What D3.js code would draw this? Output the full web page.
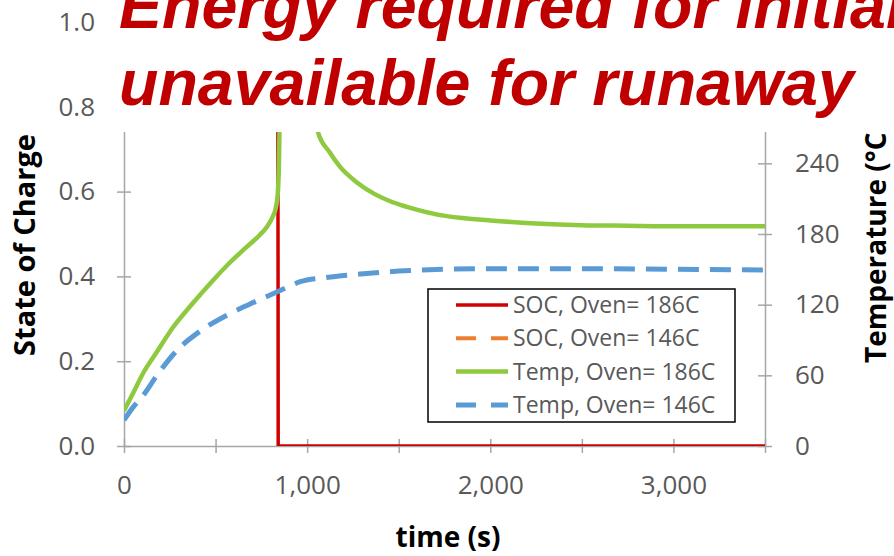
<!DOCTYPE html>
<html>
<head>
<meta charset="utf-8">
<script src="https://cdn.jsdelivr.net/npm/d3@7"></script>
<style>
  body { margin: 0; background: #fff; }
  svg { display: block; }
</style>
</head>
<body>
<script>
// values
const timeTicks = [0, 500, 1000, 1500, 2000, 2500, 3000, 3500];
const timeLabels = [0, 1000, 2000, 3000];
const socTicks = [0, 0.2, 0.4, 0.6, 0.8, 1.0];
const tempTicks = [0, 60, 120, 180, 240];

const seriesNames = ["SOC, Oven= 186C", "SOC, Oven= 146C", "Temp, Oven= 186C", "Temp, Oven= 146C"];

const soc186Time = [0, 840, 842, 3500];
const soc186 = [1.0, 1.0, 0.0, 0.0];

const soc146Time = [0, 1000, 2000, 3500];
const soc146 = [1.0, 1.0, 1.0, 1.0];

const temp186Time = [0, 50, 105, 180, 269, 380, 488, 580, 670, 740, 780, 810, 830, 840, 846, 850, 870,
  920, 980, 1030, 1060, 1120, 1180, 1270, 1362, 1450, 1545, 1640, 1727, 1850, 2000, 2250, 2500, 2750, 3000, 3500];
const temp186 = [30, 45, 62, 80, 101, 122, 141, 156, 169, 179, 186, 194, 203, 215, 240, 280, 370,
  400, 350, 290, 266, 250, 237, 224, 214.5, 208, 203, 199, 196, 193.5, 191.5, 189, 187.5, 187, 186.5, 186.5];

const temp146Time = [0, 50, 105, 180, 288, 420, 561, 680, 780, 880, 962, 1100, 1290, 1500, 1750, 2000, 2500, 3000, 3500];
const temp146 = [22, 33, 43, 60, 81, 98, 111, 120, 127, 134, 139.5, 143, 146, 148.5, 150, 150.5, 150.5, 150, 149.5];

const width = 894, height = 556;
const plotL = 124, plotR = 765, plotT = 22, plotB = 446;
const axisGrey = "#a6a6a6", labelGrey = "#595959";
const colors = ["#d00000", "#ed7d31", "#8fc93f", "#5b9bd5"];

const svg = d3.select("body").append("svg")
  .attr("width", width)
  .attr("height", height);

const x = d3.scaleLinear().domain([0, 3500]).range([plotL, plotR]);
const ySoc = d3.scaleLinear().domain([0, 1]).range([plotB, plotT]);
const yTemp = d3.scaleLinear().domain([0, 360]).range([plotB, plotT]);

svg.append("clipPath").attr("id", "plot")
  .append("rect")
  .attr("x", plotL).attr("y", plotT)
  .attr("width", plotR - plotL).attr("height", plotB - plotT);

// axes: Excel style crossing ticks
const tickLen = 7;
function styleAxis(g) {
  g.select(".domain").attr("stroke", axisGrey).attr("stroke-width", 1.5);
  g.selectAll(".tick line").attr("stroke", axisGrey).attr("stroke-width", 1.5);
  g.selectAll(".tick text")
    .attr("fill", labelGrey)
    .style("font-family", "'Open Sans', sans-serif")
    .style("font-size", "26px");
}

svg.append("g")
  .attr("transform", `translate(0,${plotB})`)
  .call(d3.axisBottom(x).tickValues(timeTicks).tickSize(tickLen).tickSizeOuter(0)
    .tickFormat(d => timeLabels.includes(d) ? d3.format(",")(d) : ""))
  .call(styleAxis)
  .call(g => g.selectAll(".tick line").attr("y1", -tickLen))
  .call(g => g.selectAll(".tick text").attr("y", 39).attr("dy", "0.35em"));

svg.append("g")
  .attr("transform", `translate(${plotL},0)`)
  .call(d3.axisLeft(ySoc).tickValues(socTicks).tickSize(tickLen).tickSizeOuter(0)
    .tickFormat(d3.format(".1f")))
  .call(styleAxis)
  .call(g => g.selectAll(".tick line").attr("x1", tickLen))
  .call(g => g.selectAll(".tick text").attr("x", -29));

svg.append("g")
  .attr("transform", `translate(${plotR},0)`)
  .call(d3.axisRight(yTemp).tickValues(tempTicks).tickSize(tickLen).tickSizeOuter(0))
  .call(styleAxis)
  .call(g => g.selectAll(".tick line").attr("x1", -tickLen))
  .call(g => g.selectAll(".tick text").attr("x", 30));

// series
const series = [
  { t: soc186Time, v: soc186, y: ySoc, color: colors[0], w: 3.5, dash: null, curve: d3.curveLinear },
  { t: soc146Time, v: soc146, y: ySoc, color: colors[1], w: 4, dash: "19,14", curve: d3.curveLinear },
  { t: temp186Time, v: temp186, y: yTemp, color: colors[2], w: 4.5, dash: null, curve: d3.curveMonotoneX },
  { t: temp146Time, v: temp146, y: yTemp, color: colors[3], w: 5, dash: "21,11", curve: d3.curveMonotoneX }
];

const plot = svg.append("g").attr("clip-path", "url(#plot)");
series.forEach(s => {
  const pts = s.t.map((t, i) => [t, s.v[i]]);
  plot.append("path")
    .datum(pts)
    .attr("fill", "none")
    .attr("stroke", s.color)
    .attr("stroke-width", s.w)
    .attr("stroke-dasharray", s.dash)
    .attr("d", d3.line().x(d => x(d[0])).y(d => s.y(d[1])).curve(s.curve));
});

// legend
const legend = svg.append("g");
legend.append("rect")
  .attr("x", 428).attr("y", 289).attr("width", 307).attr("height", 133)
  .attr("fill", "#fff").attr("stroke", "#000").attr("stroke-width", 1.5);
seriesNames.forEach((name, i) => {
  const yy = 305 + i * 33.3;
  legend.append("line")
    .attr("x1", 456).attr("x2", 508).attr("y1", yy).attr("y2", yy)
    .attr("stroke", series[i].color)
    .attr("stroke-width", series[i].w)
    .attr("stroke-dasharray", series[i].dash ? "20,15" : null);
  legend.append("text")
    .attr("x", 513).attr("y", yy).attr("dy", "0.35em")
    .attr("fill", labelGrey)
    .style("font-family", "'Open Sans', sans-serif")
    .style("font-size", "23px")
    .text(name);
});

// axis titles
const titleFont = "'Open Sans', sans-serif";
svg.append("text")
  .attr("transform", "translate(35,245) rotate(-90)")
  .attr("text-anchor", "middle")
  .style("font-family", titleFont).style("font-weight", "bold").style("font-size", "29px")
  .attr("fill", "#000")
  .text("State of Charge");

svg.append("text")
  .attr("transform", "translate(886,363) rotate(-90)")
  .attr("text-anchor", "start")
  .style("font-family", titleFont).style("font-weight", "bold").style("font-size", "28px")
  .attr("fill", "#000")
  .text("Temperature (°C)");

svg.append("text")
  .attr("x", 448).attr("y", 547)
  .attr("text-anchor", "middle")
  .style("font-family", titleFont).style("font-weight", "bold").style("font-size", "28px")
  .attr("fill", "#000")
  .text("time (s)");

// slide title box laid over the top of the chart
svg.append("rect")
  .attr("x", 108).attr("y", 0).attr("width", width - 108).attr("height", 132)
  .attr("fill", "#fff");

const titleLines = ["Energy required for initial", "unavailable for runaway"];
svg.append("g")
  .selectAll("text")
  .data(titleLines)
  .join("text")
  .attr("x", 119)
  .attr("y", (d, i) => 28 + i * 77)
  .attr("fill", "#c00000")
  .style("font-family", "'Liberation Sans', Arial, sans-serif")
  .style("font-weight", "bold")
  .style("font-style", "italic")
  .style("font-size", "64.5px")
  .text(d => d);
</script>
</body>
</html>
